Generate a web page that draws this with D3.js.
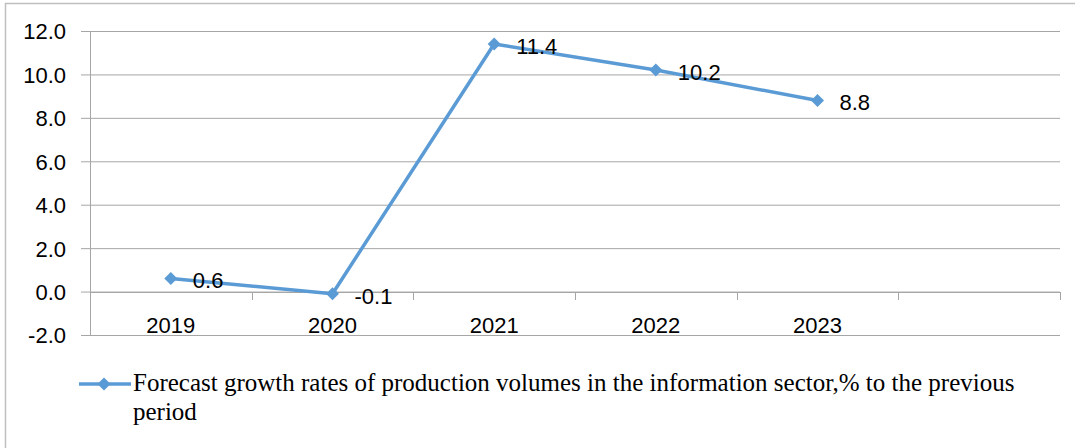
<!DOCTYPE html>
<html>
<head>
<meta charset="utf-8">
<script src="https://cdn.jsdelivr.net/npm/d3@7/dist/d3.min.js"></script>
<style>
html,body{margin:0;padding:0;background:#fff;}
svg{display:block;}
</style>
</head>
<body>
<svg id="chart" width="1075" height="448"></svg>
<script>
const categories = ["2019", "2020", "2021", "2022", "2023", ""];
const years = ["2019", "2020", "2021", "2022", "2023"];
const values = [0.6, -0.1, 11.4, 10.2, 8.8];
const yTicks = [-2, 0, 2, 4, 6, 8, 10, 12];
const seriesName = "Forecast growth rates of production volumes in the information sector,% to the previous";
const seriesName2 = "period";

(function () {
const svg = d3.select("#chart");
const color = "#5B9BD5";
const gridColor = "#a6a6a6";
const sans = "Liberation Sans, Arial, sans-serif";
const fmt = v => d3.format(".1f")(v).replace("\u2212", "-");

// outer border
svg.append("rect").attr("x", 5.5).attr("y", 3.5).attr("width", 1080).attr("height", 460)
  .attr("fill", "none").attr("stroke", "#bfbfbf").attr("stroke-width", 1.5);

const pLeft = 90, pRight = 1060, pTop = 31, pBottom = 335;
const x = d3.scaleBand().domain(categories).range([pLeft, pRight]).padding(0);
const y = d3.scaleLinear().domain([-2, 12]).range([pBottom, pTop]);

// gridlines + y ticks
const yAxis = d3.axisLeft(y).tickValues(yTicks).tickSize(-(pRight - pLeft)).tickSizeOuter(0)
  .tickFormat(fmt);
const gy = svg.append("g").attr("transform", `translate(${pLeft},0)`).call(yAxis);
gy.select(".domain").remove();
gy.selectAll(".tick line").attr("stroke", gridColor).attr("stroke-width", 1).attr("x1", -9);
gy.selectAll(".tick text").attr("x", -24).attr("dy", "0.36em")
  .attr("font-family", sans).attr("font-size", 22).attr("fill", "#000");

// y axis line
svg.append("line").attr("x1", pLeft + 0.5).attr("x2", pLeft + 0.5).attr("y1", pTop).attr("y2", pBottom)
  .attr("stroke", gridColor).attr("stroke-width", 1);

// x axis at zero
const boundaries = categories.map(c => x(c)).concat([pRight]);
const y0 = Math.round(y(0));
const gx = svg.append("g");
gx.append("line").attr("x1", pLeft).attr("x2", pRight).attr("y1", y0 + 0.5).attr("y2", y0 + 0.5)
  .attr("stroke", gridColor).attr("stroke-width", 1);
gx.selectAll("line.tk").data(boundaries.slice(1)).enter().append("line").attr("class", "tk")
  .attr("x1", d => Math.round(d) + 0.5).attr("x2", d => Math.round(d) + 0.5)
  .attr("y1", y0).attr("y2", y0 + 8)
  .attr("stroke", gridColor).attr("stroke-width", 1);
gx.selectAll("text").data(categories.filter(c => c !== "")).enter().append("text")
  .attr("x", d => x(d) + x.bandwidth() / 2).attr("y", 333)
  .attr("text-anchor", "middle")
  .attr("font-family", sans).attr("font-size", 22).attr("fill", "#000")
  .text(d => d);

// line
const data = years.map((c, i) => ({c, v: values[i]}));
const cx = d => x(d.c) + x.bandwidth() / 2;
const line = d3.line().x(cx).y(d => y(d.v));
svg.append("path").datum(data).attr("d", line).attr("fill", "none")
  .attr("stroke", color).attr("stroke-width", 3.5).attr("stroke-linejoin", "round");

function diamondPath(s) {
  return `M0,${-s}L${s},0L0,${s}L${-s},0Z`;
}
svg.selectAll("path.mk").data(data).enter().append("path").attr("class", "mk")
  .attr("transform", d => `translate(${cx(d)},${y(d.v)})`)
  .attr("d", diamondPath(6.5)).attr("fill", color);

// data labels
svg.selectAll("text.lbl").data(data).enter().append("text").attr("class", "lbl")
  .attr("x", d => cx(d) + 22).attr("y", d => y(d.v) + 2)
  .attr("dy", "0.36em")
  .attr("font-family", sans).attr("font-size", 22).attr("fill", "#000")
  .text(d => fmt(d.v));

// legend
const lg = svg.append("g");
lg.append("line").attr("x1", 79).attr("x2", 131).attr("y1", 384).attr("y2", 384)
  .attr("stroke", color).attr("stroke-width", 3.5);
lg.append("path").attr("transform", "translate(104,384)").attr("d", diamondPath(6.5)).attr("fill", color);
lg.append("text").attr("x", 133).attr("y", 391)
  .attr("font-family", "Liberation Serif, Times New Roman, serif").attr("font-size", 25).attr("fill", "#000")
  .text(seriesName);
lg.append("text").attr("x", 133).attr("y", 420)
  .attr("font-family", "Liberation Serif, Times New Roman, serif").attr("font-size", 25).attr("fill", "#000")
  .text(seriesName2);
})();
</script>
</body>
</html>
